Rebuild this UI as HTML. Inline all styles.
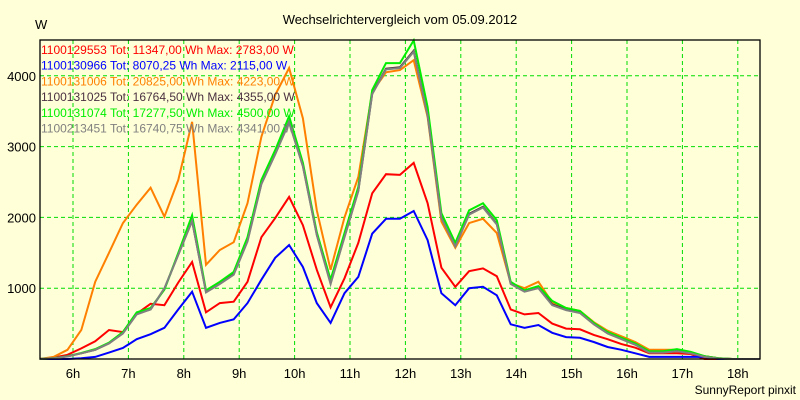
<!DOCTYPE html>
<html><head><meta charset="utf-8"><style>
body{margin:0;background:#ffffd8;}
svg{display:block;font-family:"Liberation Sans",Arial,sans-serif;}
</style></head><body>
<svg id="chart" width="800" height="400">
<rect x="0" y="0" width="800" height="400" fill="#ffffd8"/>
<text x="400" y="24" text-anchor="middle" font-size="13">Wechselrichtervergleich vom 05.09.2012</text>
<text x="35" y="29" font-size="13">W</text>
<text x="796" y="394" text-anchor="end" font-size="12">SunnyReport pinxit</text>
<g id="grid"></g><g id="lines"></g><g id="axes"></g><g id="legend"></g>
</svg>
<script>
const t0 = 5.4, step = 0.25;
const yTicks = [1000, 2000, 3000, 4000];
const xTicks = [6,7,8,9,10,11,12,13,14,15,16,17,18];
const xTickLabels = ["6h","7h","8h","9h","10h","11h","12h","13h","14h","15h","16h","17h","18h"];
const seriesNames = ["1100129553","1100130966","1100131006","1100131025","1100131074","1100213451"];
const seriesLegend = [
"1100129553 Tot: 11347,00 Wh Max: 2783,00 W",
"1100130966 Tot: 8070,25 Wh Max: 2115,00 W",
"1100131006 Tot: 20825,00 Wh Max: 4223,00 W",
"1100131025 Tot: 16764,50 Wh Max: 4355,00 W",
"1100131074 Tot: 17277,50 Wh Max: 4500,00 W",
"1100213451 Tot: 16740,75 Wh Max: 4341,00 W"];
const seriesColors = ["#ff0000","#0000ff","#ff8000","#4a3040","#00ee00","#808080"];
const red = [0,20,60,150,250,410,380,640,780,760,1080,1370,660,790,810,1090,1720,1990,2290,1890,1260,730,1140,1640,2340,2610,2600,2770,2200,1290,1020,1240,1280,1170,700,630,650,500,430,420,340,280,210,160,80,80,80,70,0,0,0,0,0];
const blue = [0,0,0,10,30,90,155,280,350,440,700,950,440,510,560,790,1120,1430,1610,1300,790,510,930,1160,1770,1980,1980,2090,1680,930,760,1000,1020,900,490,440,480,370,310,300,240,170,130,80,30,30,30,30,30,0,0,0,0];
const orange = [0,30,130,410,1090,1500,1920,2180,2420,2010,2530,3350,1330,1540,1650,2200,3140,3730,4110,3400,2100,1260,2000,2570,3770,4050,4080,4220,3420,1940,1570,1920,1980,1780,1070,1000,1090,800,720,680,520,400,320,240,130,130,130,80,40,10,0,0,0];
const darkgray = [0,10,40,80,130,220,370,640,700,990,1480,1950,950,1070,1200,1680,2480,2900,3350,2730,1760,1080,1730,2380,3750,4100,4120,4355,3450,2000,1600,2050,2150,1910,1070,960,1010,770,700,660,500,370,290,210,100,100,120,90,40,10,0,0,0];
const green = [0,10,40,85,140,230,380,660,720,980,1500,2030,970,1090,1230,1720,2530,2950,3430,2770,1790,1120,1780,2430,3800,4180,4180,4500,3560,2060,1640,2100,2200,1960,1090,970,1030,820,720,680,510,380,300,220,110,110,140,100,40,10,0,0,0];
const gray = [0,10,35,80,130,220,360,630,700,1000,1470,1950,940,1060,1190,1660,2470,2890,3340,2720,1750,1060,1720,2370,3740,4090,4110,4341,3440,1990,1590,2040,2140,1900,1060,950,1000,760,690,650,490,360,280,200,90,90,110,80,30,5,0,0,0];
const seriesData = [red, blue, orange, darkgray, green, gray];

const L=40, R=760, T=40, B=359;
const xScale = h => 73 + (h-6)*55.4;
const yScale = v => B - v*0.0708;
const NS="http://www.w3.org/2000/svg";
function mk(tag, parent){const e=document.createElementNS(NS,tag);parent.appendChild(e);return e;}
const grid=document.getElementById('grid'), lines=document.getElementById('lines'), axes=document.getElementById('axes'), legend=document.getElementById('legend');

yTicks.forEach(v=>{
  const y=yScale(v);
  const g=mk('line',grid);
  
  
  g.setAttribute('x1',L);g.setAttribute('x2',R);g.setAttribute('y1',y);g.setAttribute('y2',y);
  g.setAttribute('stroke','#00dd00');g.setAttribute('stroke-dasharray','4,3');
  const tx=mk('text',axes);
  
  
  tx.setAttribute('x',36);tx.setAttribute('y',y+5);tx.setAttribute('text-anchor','end');tx.setAttribute('font-size','13');
  tx.textContent=v;
});
xTicks.forEach((h,i)=>{
  const x=xScale(h);
  const g=mk('line',grid);
  
  
  g.setAttribute('x1',x);g.setAttribute('x2',x);g.setAttribute('y1',T);g.setAttribute('y2',B);
  g.setAttribute('stroke','#00dd00');g.setAttribute('stroke-dasharray','4,3');
  const tx=mk('text',axes);
  
  
  tx.setAttribute('x',x);tx.setAttribute('y',378);tx.setAttribute('text-anchor','middle');tx.setAttribute('font-size','13');
  tx.textContent=xTickLabels[i];
});
seriesData.forEach((arr,si)=>{
  const p=mk('polyline',lines);
  
  
  p.setAttribute('points',arr.map((v,k)=>xScale(t0+k*step).toFixed(1)+','+yScale(v).toFixed(1)).join(' '));
  p.setAttribute('fill','none');p.setAttribute('stroke',seriesColors[si]);p.setAttribute('stroke-width','2');
});
const box=mk('rect',axes);


box.setAttribute('x',L);box.setAttribute('y',T);box.setAttribute('width',R-L);box.setAttribute('height',B-T);
box.setAttribute('fill','none');box.setAttribute('stroke','#000');box.setAttribute('stroke-width','1.3');
seriesLegend.forEach((s,i)=>{
  const tx=mk('text',legend);
  
  
  tx.setAttribute('x',41);tx.setAttribute('y',54+i*15.7);tx.setAttribute('font-size','12');
  tx.setAttribute('fill',seriesColors[i]);
  tx.textContent=s;
});
</script>
</body></html>
